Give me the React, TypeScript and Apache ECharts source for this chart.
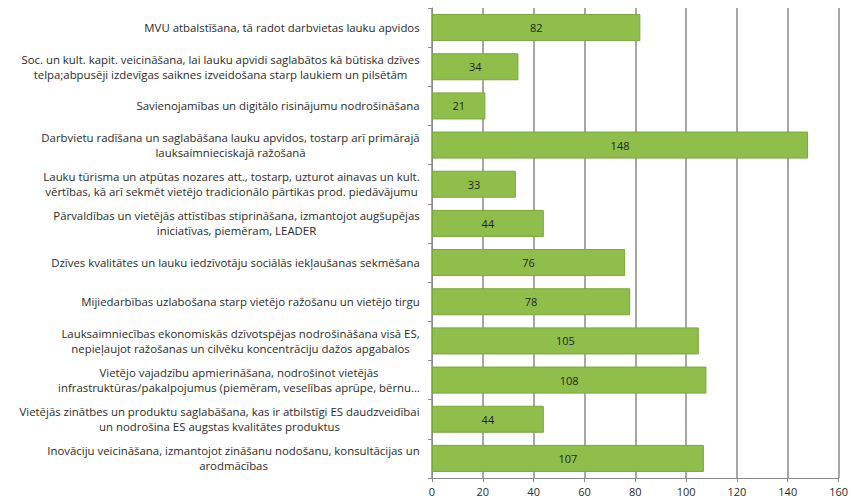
import React, { useEffect, useRef } from "react";
import * as echarts from "echarts";

const categories: string[] = [
  "MVU atbalstīšana, tā radot darbvietas lauku apvidos",
  "Soc. un kult. kapit. veicināšana, lai lauku apvidi saglabātos kā būtiska dzīves\ntelpa;abpusēji izdevīgas saiknes izveidošana starp laukiem un pilsētām",
  "Savienojamības un digitālo risinājumu nodrošināšana",
  "Darbvietu radīšana un saglabāšana lauku apvidos, tostarp arī primārajā\nlauksaimnieciskajā ražošanā",
  "Lauku tūrisma un atpūtas nozares att., tostarp, uzturot ainavas un kult.\nvērtības, kā arī sekmēt vietējo tradicionālo pārtikas prod. piedāvājumu",
  "Pārvaldības un vietējās attīstības stiprināšana, izmantojot augšupējas\niniciatīvas, piemēram, LEADER",
  "Dzīves kvalitātes un lauku iedzīvotāju sociālās iekļaušanas sekmēšana",
  "Mijiedarbības uzlabošana starp vietējo ražošanu un vietējo tirgu",
  "Lauksaimniecības ekonomiskās dzīvotspējas nodrošināšana visā ES,\nnepieļaujot ražošanas un cilvēku koncentrāciju dažos apgabalos",
  "Vietējo vajadzību apmierināšana, nodrošinot vietējās\ninfrastruktūras/pakalpojumus (piemēram, veselības aprūpe, bērnu…",
  "Vietējās zinātbes un produktu saglabāšana, kas ir atbilstīgi ES daudzveidībai\nun nodrošina ES augstas kvalitātes produktus",
  "Inovāciju veicināšana, izmantojot zināšanu nodošanu, konsultācijas un\narodmācības",
];

const values: number[] = [82, 34, 21, 148, 33, 44, 76, 78, 105, 108, 44, 107];

const xTicks: number[] = [0, 20, 40, 60, 80, 100, 120, 140, 160];

const FONT = "Open Sans";
const FS = 11.4;

export default function App() {
  const ref = useRef<HTMLDivElement>(null);
  useEffect(() => {
    if (!ref.current) return;
    const chart = echarts.init(ref.current, undefined, { renderer: "svg" });

    const canvas = document.createElement("canvas");
    const ctx = canvas.getContext("2d")!;
    ctx.font = `${FS}px "${FONT}"`;
    const rich: Record<string, any> = {};
    const labelMap: Record<string, string> = {};
    categories.forEach((c, i) => {
      const lines = c.split("\n");
      const w = Math.ceil(Math.max(...lines.map((l) => ctx.measureText(l).width)));
      const key = "c" + i;
      rich[key] = { width: w, align: "center", fontFamily: FONT, fontSize: FS, color: "#2b2b2b", lineHeight: 15 };
      labelMap[c] = lines.map((l) => `{${key}|${l}}`).join("\n");
    });

    chart.setOption({
      animation: false,
      grid: { left: 432, right: 11, top: 8, bottom: 22, containLabel: false },
      xAxis: {
        type: "value",
        min: xTicks[0],
        max: xTicks[xTicks.length - 1],
        interval: 20,
        axisLine: { show: true, lineStyle: { color: "#8a8a8a", width: 1 } },
        axisTick: { show: true, length: 4, lineStyle: { color: "#8a8a8a" } },
        axisLabel: { fontFamily: FONT, fontSize: 11, color: "#2b2b2b", margin: 8 },
        splitLine: { show: true, lineStyle: { color: "#8a8a8a", width: 1.5 } },
      },
      yAxis: {
        type: "category",
        inverse: true,
        data: categories,
        axisLine: { show: true, lineStyle: { color: "#8a8a8a" } },
        axisTick: { show: true, length: 4, lineStyle: { color: "#8a8a8a" } },
        axisLabel: {
          interval: 0,
          margin: 12,
          align: "right",
          formatter: (v: string) => labelMap[v] || v,
          rich,
        },
      },
      series: [
        {
          type: "bar",
          data: values,
          barCategoryGap: "31%",
          itemStyle: { color: "#8FBE4B", borderColor: "#7da63a", borderWidth: 1 },
          label: {
            show: true,
            position: "inside",
            fontFamily: FONT,
            fontSize: 11,
            color: "#1f1f1f",
          },
        },
      ],
    });
    return () => chart.dispose();
  }, []);
  return <div ref={ref} style={{ width: 851, height: 500, position: "absolute", left: 0, top: 0, background: "#fff" }} />;
}
